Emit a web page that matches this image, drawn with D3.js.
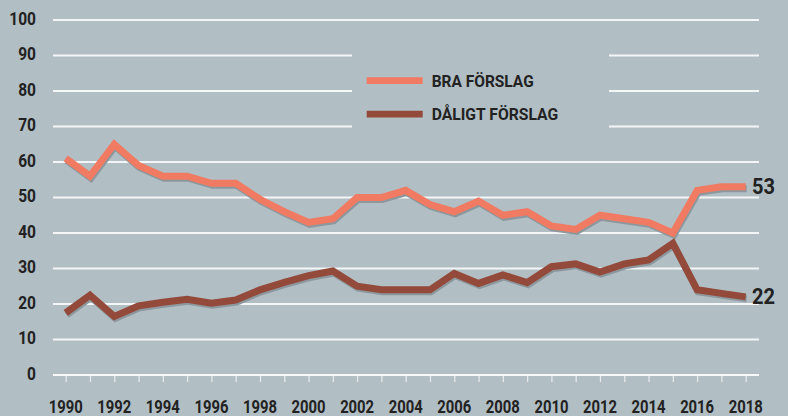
<!DOCTYPE html>
<html><head><meta charset="utf-8">
<script src="https://cdn.jsdelivr.net/npm/d3@7"></script>
<style>
html,body{margin:0;padding:0;background:#b1bec4;}
svg{display:block;}
text{font-family:"Roboto","Liberation Sans",sans-serif;font-weight:bold;fill:#222;}
</style></head>
<body>
<svg id="chart" width="788" height="416"></svg>
<script>
const years = d3.range(1990, 2019);
const bra = [61,56,65,59,56,56,54,54,49.5,46,43,44,50,50,52,48,46,49,45,46,42,41,45,44,43,40,52,53,53];
const daligt = [17.5,22.5,16.5,19.5,20.5,21.3,20.2,21.1,24,26.1,28,29.3,25,24,24,24,28.6,25.8,28.2,26,30.5,31.3,29,31.3,32.4,37.1,24,23,22];
const yTicks = [0,10,20,30,40,50,60,70,80,90,100];
const xTickLabels = [1990,1992,1994,1996,1998,2000,2002,2004,2006,2008,2010,2012,2014,2016,2018];
const seriesNames = ["BRA FÖRSLAG","DÅLIGT FÖRSLAG"];
const colors = ["#f07a62","#944a3a"];
const endLabels = ["53","22"];

const svg = d3.select("#chart");
const x = d3.scaleLinear().domain([1990,2018]).range([65.7,745.7]);
const y = d3.scaleLinear().domain([0,100]).range([375,20]);
const gx0 = 53, gx1 = 759;

// condensed look: squeeze glyphs horizontally
function condensed(sel, w){
  sel.attr("textLength", w).attr("lengthAdjust","spacingAndGlyphs");
}

svg.append("rect").attr("width",788).attr("height",416).attr("fill","#b1bec4");

// gridlines
svg.append("g").selectAll("line").data(yTicks.filter(d=>d>0)).join("line")
  .attr("x1",gx0).attr("x2",gx1).attr("y1",d=>y(d)).attr("y2",d=>y(d))
  .attr("stroke","#f3f5f6").attr("stroke-width",1.8);

// legend cutout
svg.append("rect").attr("x",352).attr("y",45).attr("width",257).attr("height",95).attr("fill","#b1bec4");

// y labels
svg.append("g").selectAll("text").data(yTicks).join("text")
  .attr("x",36).attr("y",d=>y(d)+4.5).attr("text-anchor","end")
  .attr("font-size",18).text(d=>d)
  .call(condensed, d=>String(d).length*8.9);

// x axis
const xAxis = d3.axisBottom(x).tickValues(years).tickSize(7).tickFormat("");
const ax = svg.append("g").attr("transform","translate(0,375)").call(xAxis);
ax.select(".domain").remove();
ax.selectAll(".tick line").attr("stroke","#e6eaec").attr("stroke-width",1.3);
svg.append("line").attr("x1",gx0).attr("x2",gx1).attr("y1",375).attr("y2",375)
  .attr("stroke","#f7f8f9").attr("stroke-width",2);
svg.append("g").selectAll("text").data(xTickLabels).join("text")
  .attr("x",d=>x(d)).attr("y",413).attr("text-anchor","middle")
  .attr("font-size",18).text(d=>d)
  .call(condensed, 34);

// lines
const line = d3.line().x((d,i)=>x(years[i])).y(d=>y(d));
const data = [bra, daligt];
data.forEach((s,k)=>{
  svg.append("path").datum(s).attr("d",line).attr("fill","none")
    .attr("stroke","#8c989e").attr("stroke-width",7).attr("transform","translate(1,2)");
});
data.forEach((s,k)=>{
  svg.append("path").datum(s).attr("d",line).attr("fill","none")
    .attr("stroke",colors[k]).attr("stroke-width",7);
});

// end labels
data.forEach((s,k)=>{
  svg.append("text").attr("x",752).attr("y",y(s[s.length-1])+7)
    .attr("font-size",22.5).text(endLabels[k]).call(condensed, 23);
});

// legend
const lg = svg.append("g");
const legendW = [102, 126.5];
seriesNames.forEach((n,k)=>{
  const ly = 80.7 + k*33.5;
  lg.append("line").attr("x1",366.7).attr("x2",422.7).attr("y1",ly).attr("y2",ly)
    .attr("stroke",colors[k]).attr("stroke-width",6.7);
  lg.append("text").attr("x",431.7).attr("y",ly+6.2).attr("font-size",17.3).text(n)
    .call(condensed, legendW[k]);
});
</script>
</body></html>
